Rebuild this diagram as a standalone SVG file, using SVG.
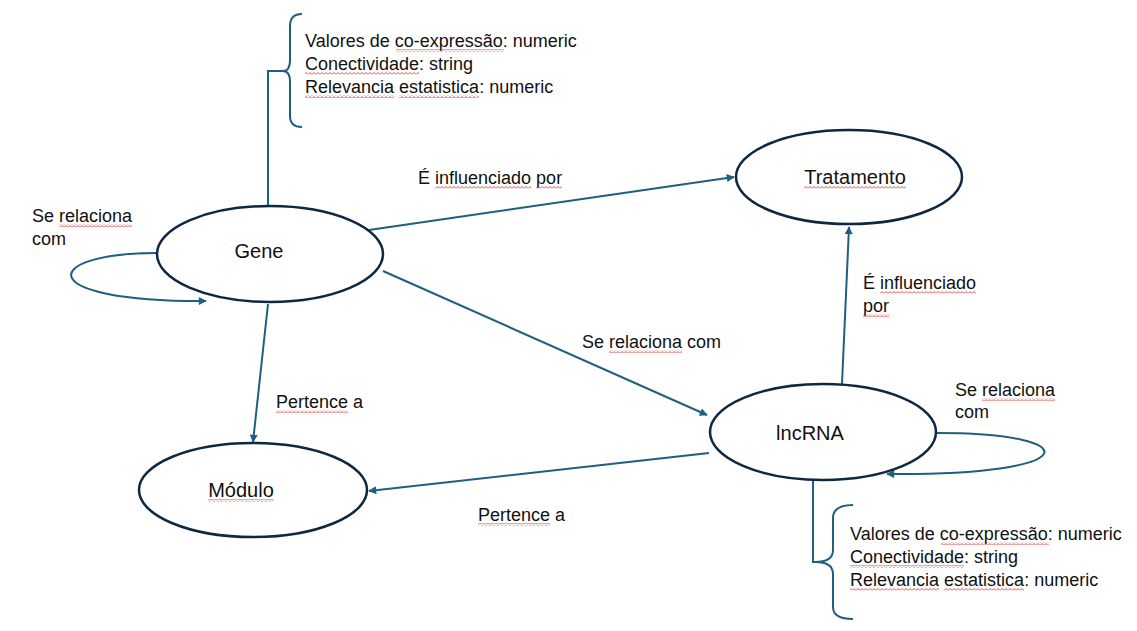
<svg xmlns="http://www.w3.org/2000/svg" width="1137" height="631" viewBox="0 0 1137 631">
  <style>
    .node { fill: #ffffff; stroke: #0e2841; stroke-width: 2.5; }
    .edge { fill: none; stroke: #1f5f80; stroke-width: 2; }
    .brace { fill: none; stroke: #1f5f80; stroke-width: 2; }
    text { font-family: "Liberation Sans", Arial, sans-serif; fill: #111111; }
    .nl { font-size: 20px; text-anchor: middle; }
    .el { font-size: 18px; }
    .sq { fill: url(#wavy); }
  </style>
  <defs>
    <marker id="arr" viewBox="0 0 10 10" refX="9" refY="5" markerWidth="9" markerHeight="8" markerUnits="userSpaceOnUse" orient="auto">
      <path d="M0,0 L10,5 L0,10 z" fill="#1f5f80"/>
    </marker>
    <pattern id="wavy" x="0" y="0" width="4" height="3" patternUnits="userSpaceOnUse">
      <path d="M0,2.5 L2,0.5 L4,2.5" fill="none" stroke="#e03535" stroke-width="0.9"/>
    </pattern>
  </defs>

  <g id="connectors">
    <path class="edge" d="M369,230 L734,177" marker-end="url(#arr)"/>
    <path class="edge" d="M383,271 L707,415" marker-end="url(#arr)"/>
    <path class="edge" d="M268,304 L253,442" marker-end="url(#arr)"/>
    <path class="edge" d="M709,453 L369,491" marker-end="url(#arr)"/>
    <path class="edge" d="M842,384 L849,227" marker-end="url(#arr)"/>
    <path class="edge" d="M157,253 C40,253 30,302 206,301" marker-end="url(#arr)"/>
    <path class="edge" d="M937,433 C1090,433 1085,476 887,474" marker-end="url(#arr)"/>
    <path class="brace" d="M268,206 L268,71 L284,71"/>
    <path class="brace" d="M302,14 Q290,14 290,26 L290,60 Q290,71 283,71 Q290,71 290,82 L290,116 Q290,127 302,127"/>
    <path class="brace" d="M813,480 L813,562 L815,562"/>
    <path class="brace" d="M853,505 Q833,505 833,518 L833,550 Q833,562 815,562 Q833,562 833,574 L833,607 Q833,619 853,619"/>
  </g>

  <g id="gene">
    <ellipse class="node" cx="270" cy="254" rx="113" ry="48"/>
    <text class="nl" x="259" y="258">Gene</text>
  </g>
  <g id="tratamento">
    <ellipse class="node" cx="849" cy="177" rx="113" ry="47"/>
    <text class="nl" x="855" y="184"><tspan>Tratamento</tspan></text>
    <rect class="sq" x="804" y="186" width="102" height="3"/>
  </g>
  <g id="lncrna">
    <ellipse class="node" cx="823" cy="432" rx="113" ry="48"/>
    <text class="nl" x="810" y="440">lncRNA</text>
  </g>
  <g id="modulo">
    <ellipse class="node" cx="253" cy="490" rx="114" ry="47"/>
    <text class="nl" x="241" y="497"><tspan>Módulo</tspan></text>
    <rect class="sq" x="208" y="499" width="66" height="3"/>
  </g>

  <g id="labels">
    <text class="el" x="32" y="222">Se <tspan>relaciona</tspan></text>
    <text class="el" x="32" y="245">com</text>
    <text class="el" x="418" y="184">É <tspan>influenciado</tspan> <tspan>por</tspan></text>
    <text class="el" x="582" y="348">Se <tspan>relaciona</tspan> com</text>
    <text class="el" x="276" y="408"><tspan>Pertence</tspan> a</text>
    <text class="el" x="478" y="521"><tspan>Pertence</tspan> a</text>
    <text class="el" x="863" y="289">É <tspan>influenciado</tspan></text>
    <text class="el" x="863" y="312"><tspan>por</tspan></text>
    <text class="el" x="955" y="396">Se <tspan>relaciona</tspan></text>
    <text class="el" x="955" y="418">com</text>
    <rect class="sq" x="59" y="224" width="73" height="3"/>
    <rect class="sq" x="435" y="186" width="96" height="3"/>
    <rect class="sq" x="536" y="186" width="26" height="3"/>
    <rect class="sq" x="609" y="350" width="73" height="3"/>
    <rect class="sq" x="276" y="410" width="72" height="3"/>
    <rect class="sq" x="478" y="523" width="72" height="3"/>
    <rect class="sq" x="880" y="291" width="96" height="3"/>
    <rect class="sq" x="863" y="314" width="26" height="3"/>
    <rect class="sq" x="982" y="398" width="73" height="3"/>
  </g>

  <g id="gene-attrs">
    <text class="el" x="305" y="47">Valores de <tspan>co-expressão</tspan>: numeric</text>
    <text class="el" x="305" y="70"><tspan>Conectividade</tspan>: string</text>
    <text class="el" x="305" y="93"><tspan>Relevancia</tspan> <tspan>estatistica</tspan>: numeric</text>
    <rect class="sq" x="396" y="49" width="108" height="3"/>
    <rect class="sq" x="305" y="72" width="114" height="3"/>
    <rect class="sq" x="305" y="95" width="89" height="3"/>
    <rect class="sq" x="399" y="95" width="80" height="3"/>
  </g>
  <g id="lncrna-attrs">
    <text class="el" x="850" y="540">Valores de <tspan>co-expressão</tspan>: numeric</text>
    <text class="el" x="850" y="563"><tspan>Conectividade</tspan>: string</text>
    <text class="el" x="850" y="586"><tspan>Relevancia</tspan> <tspan>estatistica</tspan>: numeric</text>
    <rect class="sq" x="941" y="542" width="108" height="3"/>
    <rect class="sq" x="850" y="565" width="114" height="3"/>
    <rect class="sq" x="850" y="588" width="89" height="3"/>
    <rect class="sq" x="944" y="588" width="80" height="3"/>
  </g>
</svg>
